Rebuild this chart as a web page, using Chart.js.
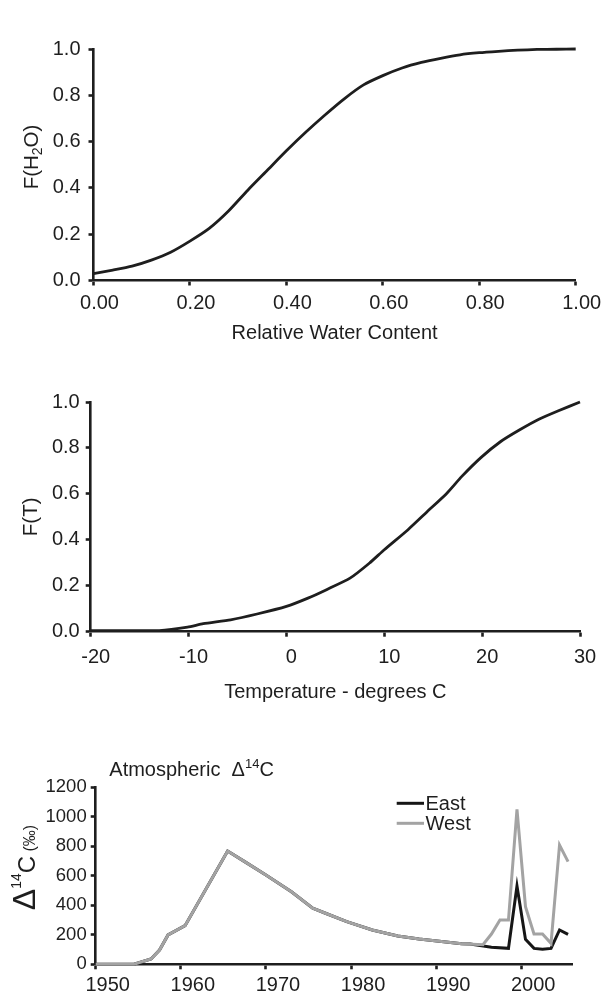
<!DOCTYPE html>
<html>
<head>
<meta charset="utf-8">
<script src="https://cdn.jsdelivr.net/npm/chart.js@4.4.1/dist/chart.umd.min.js"></script>
<style>
  html, body { margin: 0; padding: 0; background: #fff; }
  body { position: relative; width: 603px; height: 998px; overflow: hidden; }
  canvas { position: absolute; left: 0; }
</style>
</head>
<body>
<canvas id="c1" width="603" height="350" style="top:0px"></canvas>
<canvas id="c2" width="603" height="360" style="top:350px"></canvas>
<canvas id="c3" width="603" height="288" style="top:710px"></canvas>
<script>
// --- data ---
const waterX = [0, 0.04, 0.08, 0.12, 0.16, 0.20, 0.24, 0.28, 0.32, 0.36, 0.40, 0.44, 0.48, 0.52,
                0.56, 0.60, 0.64, 0.68, 0.72, 0.76, 0.80, 0.84, 0.88, 0.92, 0.96, 1.00];
const waterF = [0.03, 0.045, 0.062, 0.088, 0.122, 0.17, 0.225, 0.30, 0.39, 0.475, 0.56, 0.64, 0.715, 0.785,
                0.845, 0.885, 0.918, 0.942, 0.960, 0.975, 0.984, 0.990, 0.995, 0.998, 0.999, 1.0];

const tempX = [-20, -16, -13, -10.1, -8.5, -5.7, -3, 0, 2.2, 4.1, 6.5, 8.5, 10, 12.4, 14.4,
               16.4, 17.9, 19.9, 21.9, 23.8, 25.8, 27.8, 30];
const tempF = [0.005, 0.005, 0.005, 0.02, 0.035, 0.052, 0.077, 0.11, 0.146, 0.183, 0.233, 0.299,
               0.357, 0.443, 0.523, 0.603, 0.675, 0.759, 0.828, 0.878, 0.925, 0.962, 1.0];

const eastYears = [1950, 1954.5, 1956.5, 1957.5, 1958.5, 1960.5, 1965.5, 1967.5, 1970, 1973, 1975.5, 1977,
                   1979.5, 1982.5, 1985.5, 1988, 1993, 1994, 1996.5, 1998.5, 1999.5, 2000.5, 2001.5,
                   2002.5, 2003.5, 2004.5, 2005.5];
const east = [0, 0, 36, 97, 199, 262, 768, 696, 605, 492, 380, 346, 289, 233, 192, 171, 140, 138, 115, 108,
              531, 169, 108, 102, 108, 233, 203];
const westYears = [1950, 1954.5, 1956.5, 1957.5, 1958.5, 1960.5, 1965.5, 1967.5, 1970, 1973, 1975.5, 1977,
                   1979.5, 1982.5, 1985.5, 1988, 1993, 1995.5, 1996.5, 1997.5, 1998.5, 1999.5, 2000.5,
                   2001.5, 2002.5, 2003.5, 2004.5, 2005.5];
const west = [0, 0, 36, 97, 199, 262, 768, 696, 605, 492, 380, 346, 289, 233, 192, 171, 140, 133, 205, 300,
              300, 1051, 391, 205, 205, 142, 809, 696];

const waterTicks = ['0.00', '0.20', '0.40', '0.60', '0.80', '1.00'];
const fracTicks = ['0.0', '0.2', '0.4', '0.6', '0.8', '1.0'];
const tempTicks = ['-20', '-10', '0', '10', '20', '30'];
const yearTicks = ['1950', '1960', '1970', '1980', '1990', '2000'];
const c14Ticks = ['0', '200', '400', '600', '800', '1000', '1200'];

const FONT = "'Liberation Sans', Arial, sans-serif";
const INK = '#1e1e1e';
Chart.defaults.font.family = FONT;
Chart.defaults.color = INK;

function pts(xs, ys) {
  return xs.map((x, i) => ({ x: x, y: ys[i] }));
}

// draw text made of runs with different sizes (for sub/superscripts)
function drawRich(ctx, runs, x, y, align) {
  let total = 0;
  runs.forEach(r => { ctx.font = r[1] + 'px ' + FONT; total += ctx.measureText(r[0]).width; });
  let cx = align === 'left' ? x : x - total / 2;
  ctx.textBaseline = 'alphabetic';
  ctx.textAlign = 'left';
  ctx.fillStyle = INK;
  runs.forEach(r => {
    ctx.font = r[1] + 'px ' + FONT;
    ctx.fillText(r[0], cx, y + r[2]);
    cx += ctx.measureText(r[0]).width;
  });
}

function axis(opts) {
  return {
    type: 'linear',
    min: opts.min, max: opts.max,
    border: { display: true, color: INK, width: 2.6 },
    grid: { drawOnChartArea: false, drawTicks: true, tickLength: 5, tickColor: INK, tickWidth: 2.6 },
    ticks: {
      stepSize: opts.step, includeBounds: false,
      font: { size: opts.size || 20 },
      padding: opts.pad, labelOffset: opts.offset || 0,
      maxRotation: 0, autoSkip: false,
      callback: (v, i) => opts.labels[i]
    },
    title: opts.title || { display: false },
    afterFit: opts.fit
  };
}

// ---- chart 1 : F(H2O) ----
new Chart(document.getElementById('c1'), {
  type: 'line',
  data: { datasets: [{ data: pts(waterX, waterF), borderColor: INK, borderWidth: 2.8,
    pointRadius: 0, tension: 0.2, clip: false }] },
  options: {
    responsive: false, animation: false, devicePixelRatio: 1,
    layout: { padding: { top: 49, right: 27.3, left: 0, bottom: 0 } },
    plugins: { legend: { display: false }, tooltip: { enabled: false } },
    scales: {
      x: axis({ min: 0, max: 1, step: 0.2, labels: waterTicks, pad: 6, offset: 6,
        title: { display: true, text: 'Relative Water Content', font: { size: 20 }, padding: { top: 0, bottom: 5 } },
        fit: s => { s.height = 69.5; } }),
      y: axis({ min: 0, max: 1, step: 0.2, labels: fracTicks, pad: 8,
        fit: s => { s.width = 93.5; } })
    }
  },
  plugins: [{
    id: 'ytitle1',
    afterDraw(chart) {
      const ctx = chart.ctx;
      ctx.save();
      ctx.translate(31, 157);
      ctx.rotate(-Math.PI / 2);
      drawRich(ctx, [['F(H', 20.5, 0], ['2', 14, 4], ['O)', 20.5, 0]], 0, 7);
      ctx.restore();
    }
  }]
});

// ---- chart 2 : F(T) ----
new Chart(document.getElementById('c2'), {
  type: 'line',
  data: { datasets: [{ data: pts(tempX, tempF), borderColor: INK, borderWidth: 2.8,
    pointRadius: 0, tension: 0.2, clip: false }] },
  options: {
    responsive: false, animation: false, devicePixelRatio: 1,
    layout: { padding: { top: 52, right: 23, left: 0, bottom: 0 } },
    plugins: { legend: { display: false }, tooltip: { enabled: false } },
    scales: {
      x: axis({ min: -20, max: 30, step: 10, labels: tempTicks, pad: 8.5, offset: 5,
        title: { display: true, text: 'Temperature - degrees C', font: { size: 20 }, padding: { top: 0, bottom: 6 } },
        fit: s => { s.height = 78.3; } }),
      y: axis({ min: 0, max: 1, step: 0.2, labels: fracTicks, pad: 6,
        title: { display: true, text: 'F(T)', font: { size: 20.5 }, padding: { top: 19, bottom: 0 } },
        fit: s => { s.width = 90.7; } })
    }
  }
});

// ---- chart 3 : atmospheric D14C ----
new Chart(document.getElementById('c3'), {
  type: 'line',
  data: { datasets: [
    { label: 'West', data: pts(westYears, west), borderColor: '#a3a3a3', borderWidth: 3,
      pointRadius: 0, tension: 0, clip: false },
    { label: 'East', data: pts(eastYears, east), borderColor: '#161616', borderWidth: 3,
      pointRadius: 0, tension: 0, clip: false }
  ] },
  options: {
    responsive: false, animation: false, devicePixelRatio: 1,
    layout: { padding: { top: 77.3, right: 30.7, left: 0, bottom: 0 } },
    plugins: { legend: { display: false }, tooltip: { enabled: false } },
    scales: {
      x: axis({ min: 1950, max: 2006, step: 10, labels: yearTicks, pad: 4.5, offset: 12, size: 20,
        fit: s => { s.height = 33.7; } }),
      y: axis({ min: 0, max: 1200, step: 200, labels: c14Ticks, pad: 4, size: 18.5,
        fit: s => { s.width = 95.7; } })
    }
  },
  plugins: [{
    id: 'texts3',
    afterDraw(chart) {
      const ctx = chart.ctx;
      // title
      drawRich(ctx, [['Atmospheric  ', 20, 0], ['\u0394', 20, 0], ['14', 13, -8], ['C', 20, 0]], 109.3, 66, 'left');
      // y axis title
      ctx.save();
      ctx.translate(23, 157.5);
      ctx.rotate(-Math.PI / 2);
      drawRich(ctx, [['\u0394', 32, 0], ['14', 14, -14], ['C', 24, 0], [' (\u2030)', 16, 0]], 0, 11.5);
      ctx.restore();
      // legend
      const items = [['East', '#161616', 93.3], ['West', '#a3a3a3', 113.3]];
      items.forEach(it => {
        ctx.save();
        ctx.strokeStyle = it[1];
        ctx.lineWidth = 3;
        ctx.beginPath();
        ctx.moveTo(396.7, it[2]);
        ctx.lineTo(424, it[2]);
        ctx.stroke();
        ctx.restore();
        drawRich(ctx, [[it[0], 20, 0]], 425.5, it[2] + 7, 'left');
      });
    }
  }]
});
</script>
</body>
</html>
